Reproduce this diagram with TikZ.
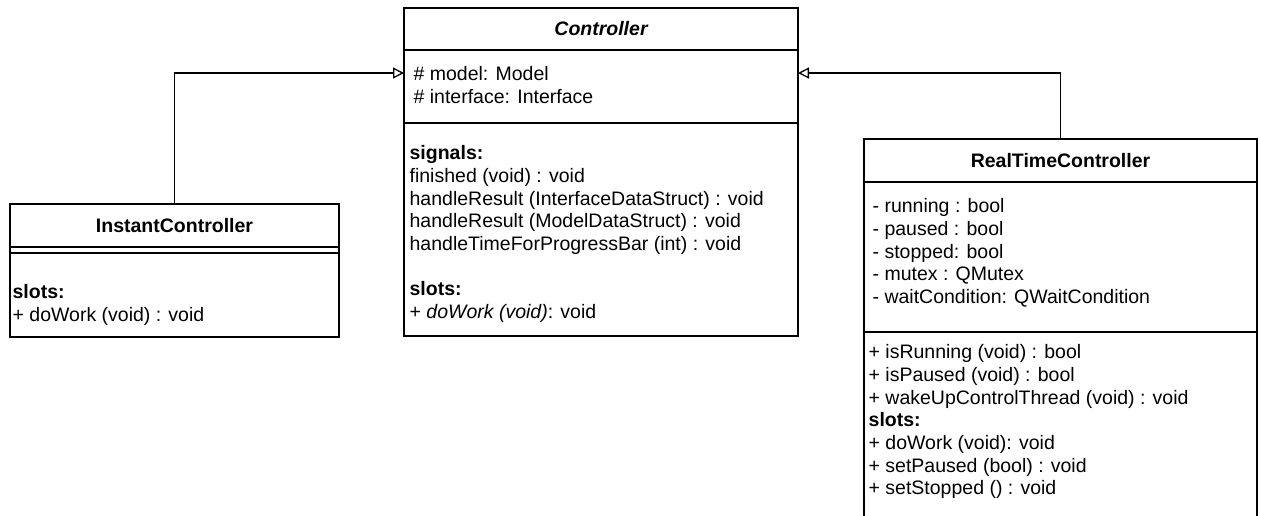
\documentclass[tikz,border=0pt]{standalone}
\usepackage{fontspec}
\setmainfont{Liberation Sans}
\usetikzlibrary{arrows.meta, positioning}
\newcommand{\umlfont}{\fontsize{19.5}{22.7}\selectfont}

\begin{document}
\begin{tikzpicture}[x=1pt, y=-1pt, line width=1.3pt,
    >={Triangle[open, length=11pt, width=11pt]},
    part/.style={draw, anchor=north west, inner sep=0pt, outer sep=0pt},
    classname/.style={part, font=\umlfont\bfseries},
    members/.style={anchor=north west, align=left, inner sep=0pt, font=\umlfont}]
  \useasboundingbox (0,0) rectangle (1261,515);
  \clip (0,0) rectangle (1261,515);

  % base class
  \node[classname, font=\umlfont\bfseries\itshape, minimum width=394, minimum height=42] (ctrlHead) at (404,8) {Controller};
  \node[part, minimum width=394, minimum height=73] (ctrlAttr) at (ctrlHead.south west) {};
  \node[part, minimum width=394, minimum height=213] (ctrlOps) at (ctrlAttr.south west) {};
  \node[members] (ctrlAttrText) at (413,66) {\# model: Model\\\# interface: Interface};
  \node[members] (ctrlOpsText) at (409,145) {\textbf{signals:}\\
    finished (void) : void\\
    handleResult (InterfaceDataStruct) : void\\
    handleResult (ModelDataStruct) : void\\
    handleTimeForProgressBar (int) : void\\[22.7pt]
    \textbf{slots:}\\
    + \textit{doWork (void)}: void};

  % instant controller
  \node[classname, minimum width=329, minimum height=43] (instHead) at (10,204) {InstantController};
  \node[part, minimum width=329, minimum height=6] (instAttr) at (instHead.south west) {};
  \node[part, minimum width=329, minimum height=84] (instOps) at (instAttr.south west) {};
  \node[members] (instOpsText) at (12,284) {\textbf{slots:}\\+ doWork (void) : void};

  % real time controller
  \node[classname, minimum width=393, minimum height=43] (rtHead) at (864,139) {RealTimeController};
  \node[part, minimum width=393, minimum height=150] (rtAttr) at (rtHead.south west) {};
  \node[part, minimum width=393, minimum height=200] (rtOps) at (rtAttr.south west) {};
  \node[members] (rtAttrText) at (872,198) {- running : bool\\
    - paused : bool\\
    - stopped: bool\\
    - mutex : QMutex\\
    - waitCondition: QWaitCondition};
  \node[members] (rtOpsText) at (868,344) {+ isRunning (void) : bool\\
    + isPaused (void) : bool\\
    + wakeUpControlThread (void) : void\\
    \textbf{slots:}\\
    + doWork (void): void\\
    + setPaused (bool) : void\\
    + setStopped () : void};

  % inheritance
  \draw[->] (instHead.north) |- ([yshift=13.5pt]ctrlAttr.west);
  \draw[->] (rtHead.north) |- ([yshift=13.5pt]ctrlAttr.east);
\end{tikzpicture}
\end{document}
